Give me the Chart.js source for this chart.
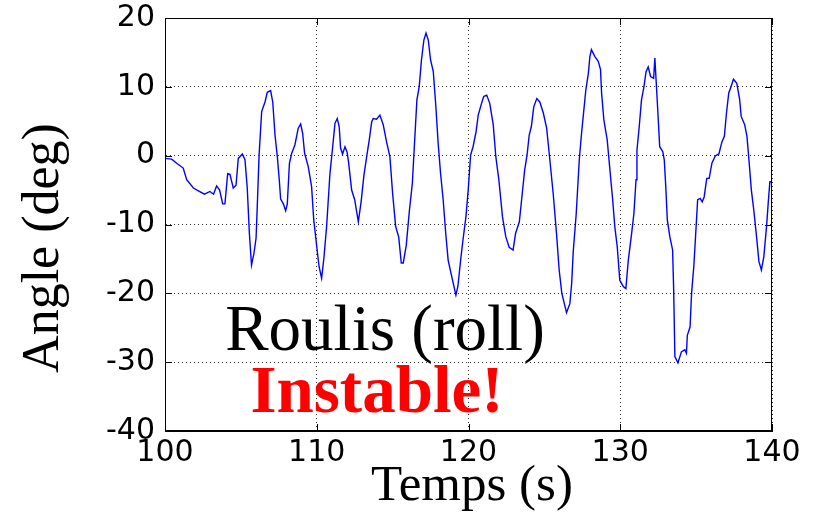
<!DOCTYPE html>
<html>
<head>
<meta charset="utf-8">
<script src="https://cdn.jsdelivr.net/npm/chart.js@4.4.1/dist/chart.umd.min.js"></script>
<style>
  html, body { margin: 0; padding: 0; background: #fff; }
  #wrap { width: 824px; height: 514px; }
</style>
</head>
<body>
<div id="wrap"><canvas id="roll" width="824" height="514"></canvas></div>
<script>
// roll angle trace
const times = [
  100, 100.44, 100.77, 101.2, 101.43, 101.87, 102.2, 102.6, 102.96, 103.2,
  103.4, 103.6, 103.8, 103.95, 104.13, 104.28, 104.5, 104.68, 104.83, 105.1,
  105.27, 105.42, 105.56, 105.7, 105.86, 106.0, 106.08, 106.2, 106.37, 106.59,
  106.74, 106.96, 107.1, 107.25, 107.4, 107.53, 107.62, 107.8, 107.95, 108.06,
  108.2, 108.35, 108.56, 108.78, 108.94, 109.07, 109.2, 109.44, 109.66, 109.8,
  110.0, 110.15, 110.32, 110.47, 110.65, 110.87, 111.05, 111.2, 111.35, 111.48,
  111.57, 111.7, 111.86, 112.0, 112.1, 112.3, 112.5, 112.74, 112.93, 113.1,
  113.3, 113.46, 113.62, 113.72, 113.94, 114.16, 114.38, 114.6, 114.82, 115.0,
  115.2, 115.4, 115.57, 115.7, 115.9, 116.1, 116.3, 116.4, 116.6, 116.75,
  116.9, 117.06, 117.2, 117.35, 117.5, 117.68, 117.85, 118.0, 118.16, 118.33,
  118.5, 118.66, 118.9, 119.04, 119.17, 119.3, 119.48, 119.65, 119.83, 119.98,
  120.14, 120.3, 120.5, 120.64, 120.86, 121.0, 121.2, 121.4, 121.63, 121.8,
  122.0, 122.24, 122.46, 122.68, 122.94, 123.1, 123.35, 123.5, 123.7, 123.86,
  124.0, 124.14, 124.3, 124.5, 124.7, 124.93, 125.15, 125.36, 125.58, 125.8,
  125.97, 126.15, 126.46, 126.68, 126.8, 126.9, 127.1, 127.3, 127.45, 127.56,
  127.73, 127.9, 128.0, 128.1, 128.33, 128.55, 128.7, 128.77, 128.92, 129.14,
  129.3, 129.5, 129.64, 129.8, 129.97, 130.2, 130.37, 130.53, 130.75, 130.9,
  131.04, 131.1, 131.25, 131.4, 131.56, 131.7, 131.84, 132.0, 132.2, 132.28,
  132.43, 132.6, 132.8, 132.9, 133.0, 133.1, 133.27, 133.45, 133.52, 133.6,
  133.8, 134.03, 134.25, 134.36, 134.42, 134.6, 134.7, 134.85, 135.0, 135.1,
  135.27, 135.4, 135.53, 135.7, 135.86, 136.04, 136.26, 136.5, 136.7, 136.86,
  137.0, 137.15, 137.3, 137.46, 137.68, 137.86, 137.97, 138.2, 138.35, 138.48,
  138.64, 138.8, 138.96, 139.14, 139.3, 139.46, 139.64, 139.75, 139.86, 140
];
const angles = [
  -0.4, -0.5, -1.1, -1.8, -3.5, -4.7, -5.1, -5.6, -5.2, -5.6,
  -4.4, -5.0, -7.0, -7.0, -2.6, -2.7, -4.7, -4.3, -0.4, 0.25,
  -0.6, -4.7, -11.3, -15.9, -14.2, -12.0, -7.4, 0.1, 6.4, 7.8,
  9.2, 9.45, 7.8, 3.0, -0.1, -3.5, -6.3, -7.0, -8.0, -7.0,
  -1.1, 0.35, 1.55, 4.0, 4.6, 3.25, 0.35, -1.6, -4.5, -9.3,
  -13.2, -16.1, -17.8, -14.9, -10.3, -2.6, 1.3, 4.7, 5.4, 4.2,
  1.1, 0.25, 1.3, 0.5, -1.0, -5.0, -6.4, -9.6, -6.6, -3.0,
  0.0, 2.3, 4.9, 5.4, 5.3, 5.9, 4.5, 2.0, -0.15, -5.5,
  -10.3, -11.8, -15.6, -15.6, -13.0, -8.1, -4.0, 0.1, 8.1, 10.0,
  13.9, 16.8, 17.8, 16.8, 13.9, 12.2, 7.1, 1.8, -2.6, -6.4,
  -11.3, -15.2, -17.6, -19.0, -20.25, -19.0, -15.2, -12.0, -8.9, -5.0,
  0.1, 1.3, 3.5, 5.9, 7.6, 8.6, 8.8, 7.6, 4.5, -0.15,
  -3.5, -8.9, -11.8, -13.3, -13.7, -11.3, -9.6, -6.4, -2.1, 0.1,
  3.0, 4.2, 7.1, 8.3, 7.8, 6.2, 4.0, -0.6, -5.5, -11.3,
  -16.5, -20.0, -22.8, -21.5, -18.5, -14.0, -8.4, -0.6, 3.25, 5.7,
  9.5, 12.0, 14.4, 15.4, 14.4, 13.7, 12.5, 9.1, 5.2, 2.3,
  -1.6, -6.4, -10.3, -13.2, -18.1, -19.0, -19.3, -15.2, -11.3, -8.4,
  -3.5, 0.8, 4.2, 8.1, 10.0, 12.2, 12.9, 11.5, 11.25, 14.2,
  8.3, 1.3, 0.6, -0.6, -4.5, -9.3, -11.8, -13.7, -19.5, -29.2,
  -30.1, -28.5, -28.2, -28.7, -26.1, -24.9, -20.0, -16.0, -10.3, -6.4,
  -6.2, -6.7, -6.0, -3.3, -3.3, -1.1, -0.05, 0.25, 2.0, 2.8,
  6.2, 9.1, 10.0, 11.1, 10.5, 8.3, 5.7, 4.5, 2.8, -0.6,
  -5.0, -7.9, -11.3, -15.4, -16.6, -14.7, -10.3, -6.9, -3.8, -3.8
];
const xTicks = [100, 110, 120, 130, 140];
const yTicks = [-40, -30, -20, -10, 0, 10, 20];
const xLabel = 'Temps (s)';
const yLabel = 'Angle (deg)';
const noteTitle = 'Roulis (roll)';
const noteAlert = 'Instable!';

const tickFont = { family: 'DejaVu Sans', size: 30 };

// frame on all four sides, inward tick marks, and the text overlays
const overlay = {
  id: 'overlay',
  afterDraw(chart) {
    const { ctx, chartArea: a, scales } = chart;
    const len = 7;
    ctx.save();
    ctx.strokeStyle = '#000';
    ctx.lineWidth = 1;
    ctx.strokeRect(a.left + 0.5, a.top + 0.5, a.right - a.left - 1, a.bottom - a.top - 1);
    ctx.beginPath();
    xTicks.forEach(v => {
      const px = Math.round(scales.x.getPixelForValue(v)) + 0.5;
      ctx.moveTo(px, a.bottom); ctx.lineTo(px, a.bottom - len);
      ctx.moveTo(px, a.top); ctx.lineTo(px, a.top + len);
    });
    yTicks.forEach(v => {
      const py = Math.round(scales.y.getPixelForValue(v)) + 0.5;
      ctx.moveTo(a.left, py); ctx.lineTo(a.left + len, py);
      ctx.moveTo(a.right, py); ctx.lineTo(a.right - len, py);
    });
    ctx.stroke();

    ctx.fillStyle = '#000';
    ctx.textAlign = 'center';
    ctx.textBaseline = 'alphabetic';
    ctx.font = '51px "Liberation Serif"';
    ctx.fillText(xLabel, 472, 500);

    ctx.save();
    ctx.translate(58, 248);
    ctx.rotate(-Math.PI / 2);
    ctx.font = '52px "Liberation Serif"';
    ctx.fillText(yLabel, 0, 0);
    ctx.restore();

    ctx.font = '65px "Liberation Serif"';
    ctx.fillText(noteTitle, 385, 350);
    ctx.fillStyle = '#ff0000';
    ctx.font = 'bold 67px "Liberation Serif"';
    ctx.fillText(noteAlert, 377, 412);
    ctx.restore();
  }
};

new Chart(document.getElementById('roll'), {
  type: 'line',
  data: {
    datasets: [{
      data: times.map((t, i) => ({ x: t, y: angles[i] })),
      borderColor: '#0000ff',
      borderWidth: 1.4,
      pointRadius: 0,
      tension: 0,
      fill: false,
    }]
  },
  options: {
    responsive: false,
    animation: false,
    layout: { padding: { top: 18, right: 52, left: 0, bottom: 0 } },
    plugins: { legend: { display: false }, tooltip: { enabled: false } },
    scales: {
      x: {
        type: 'linear',
        min: 100,
        max: 140,
        afterFit: s => { s.height = 83; s.paddingLeft = 0; s.paddingRight = 0; },
        afterBuildTicks: s => { s.ticks = xTicks.map(v => ({ value: v })); },
        ticks: { font: tickFont, color: '#000', padding: 4 },
        grid: { color: '#333', drawTicks: false, lineWidth: 1 },
        border: { display: true, color: '#000', width: 1, dash: [1, 3] },
      },
      y: {
        min: -40,
        max: 20,
        afterFit: s => { s.width = 165; s.paddingTop = 0; s.paddingBottom = 0; },
        afterBuildTicks: s => { s.ticks = yTicks.map(v => ({ value: v })); },
        ticks: { font: tickFont, color: '#000', padding: 10 },
        grid: { color: '#333', drawTicks: false, lineWidth: 1 },
        border: { display: true, color: '#000', width: 1, dash: [1, 3] },
      }
    }
  },
  plugins: [overlay]
});
</script>
</body>
</html>
